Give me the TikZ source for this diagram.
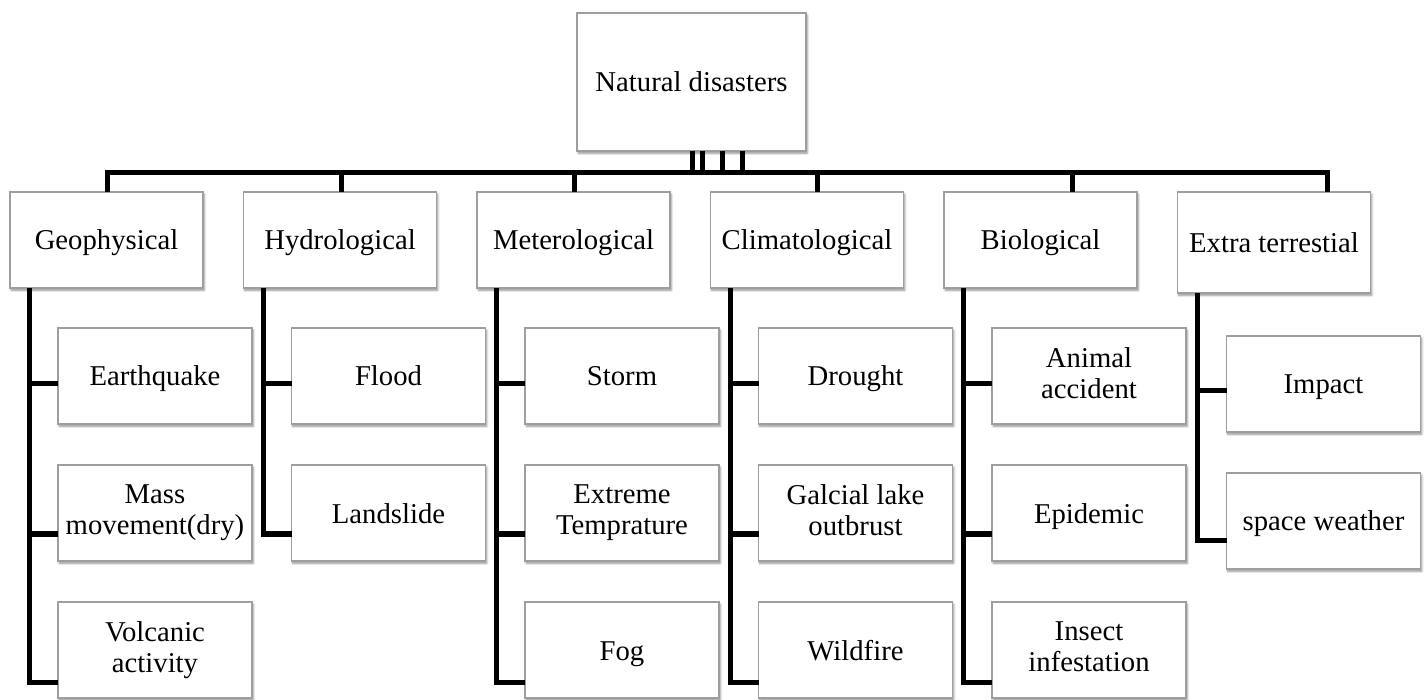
\documentclass[tikz,border=0pt]{standalone}
\usepackage{fontspec}
\setmainfont{Liberation Serif}
\usetikzlibrary{positioning,shadows.blur}

\newcommand{\capstrut}{\vrule width 0pt height 26.5pt depth 0pt}
\newcommand{\descstrut}{\vrule width 0pt height 0pt depth 6.5pt}

\begin{document}
\begin{tikzpicture}[
  basebox/.style={draw=black!38, line width=1.2pt, fill=white, align=center, inner sep=2pt, outer sep=0pt,
    blur shadow={shadow xshift=1.2pt, shadow yshift=-2.2pt, shadow blur radius=2.2pt, shadow opacity=45},
    font=\fontsize{28.7pt}{31pt}\selectfont,
    execute at begin node=\capstrut, execute at end node=\descstrut},
  rootbox/.style={basebox, minimum width=229pt, minimum height=138pt},
  catbox/.style={basebox, minimum width=193pt, minimum height=96pt},
  leafbox/.style={basebox, minimum width=194pt, minimum height=96pt},
  link/.style={line width=5pt, black}
]
  \useasboundingbox (0pt,0pt) rectangle (1428pt,-700pt);

  % Root and categories
  \node[rootbox] (root) at (691.5pt,-82pt) {Natural disasters};
  \node[catbox, anchor=north west] (geo) at (10pt,-192pt) {Geophysical};
  \node[catbox, right=40.5pt of geo] (hyd) {Hydrological};
  \node[catbox, right=40.5pt of hyd] (met) {Meterological};
  \node[catbox, right=40.5pt of met] (cli) {Climatological};
  \node[catbox, right=40.5pt of cli] (bio) {Biological};
  \node[catbox, right=40.5pt of bio.north east, anchor=north west, minimum height=101pt] (ext) {Extra terrestial};

  % Sub types
  \node[leafbox, below=40pt of geo.south west, anchor=north west, xshift=48pt] (quake) {Earthquake};
  \node[leafbox, below=41pt of quake] (mass) {Mass\\movement(dry)};
  \node[leafbox, below=41pt of mass] (volc) {Volcanic\\activity};

  \node[leafbox, below=40pt of hyd.south west, anchor=north west, xshift=48pt] (flood) {Flood};
  \node[leafbox, below=41pt of flood] (slide) {Landslide};

  \node[leafbox, below=40pt of met.south west, anchor=north west, xshift=48pt] (storm) {Storm};
  \node[leafbox, below=41pt of storm] (temp) {Extreme\\Temprature};
  \node[leafbox, below=41pt of temp] (fog) {Fog};

  \node[leafbox, below=40pt of cli.south west, anchor=north west, xshift=48pt] (drought) {Drought};
  \node[leafbox, below=41pt of drought] (glof) {Galcial lake\\outbrust};
  \node[leafbox, below=41pt of glof] (fire) {Wildfire};

  \node[leafbox, below=40pt of bio.south west, anchor=north west, xshift=48pt] (animal) {Animal\\accident};
  \node[leafbox, below=41pt of animal] (epid) {Epidemic};
  \node[leafbox, below=41pt of epid] (insect) {Insect\\infestation};

  \node[leafbox, below=43pt of ext.south west, anchor=north west, xshift=49pt] (impact) {Impact};
  \node[leafbox, below=41pt of impact] (space) {space weather};

  % Root to categories
  \draw[link] ([xshift=50.5pt]root.south) -- ++(0,-21.5pt) -| ([xshift=0.5pt]geo.north);
  \draw[link] ([xshift=30.5pt]root.south) -- ++(0,-21.5pt) -| ([xshift=1pt]hyd.north);
  \draw[link] ([xshift=10.5pt]root.south) -- ++(0,-21.5pt) -| ([xshift=0.5pt]met.north);
  \draw[link] ([xshift=0.5pt]root.south) -- ++(0,-21.5pt) -| ([xshift=10.5pt]cli.north);
  \draw[link] ([xshift=0.5pt]root.south) -- ++(0,-21.5pt) -| ([xshift=31.5pt]bio.north);
  \draw[link] ([xshift=0.5pt]root.south) -- ++(0,-21.5pt) -| ([xshift=53pt]ext.north);

  % Categories to sub types
  \draw[link] ([xshift=19.5pt]geo.south west) |- ([yshift=-8pt]quake.west);
  \draw[link] ([xshift=19.5pt]geo.south west) |- ([yshift=-21pt]mass.west);
  \draw[link] ([xshift=19.5pt]geo.south west) |- ([yshift=-32pt]volc.west);

  \draw[link] ([xshift=19.5pt]hyd.south west) |- ([yshift=-8pt]flood.west);
  \draw[link] ([xshift=19.5pt]hyd.south west) |- ([yshift=-21pt]slide.west);

  \draw[link] ([xshift=19.5pt]met.south west) |- ([yshift=-8pt]storm.west);
  \draw[link] ([xshift=19.5pt]met.south west) |- ([yshift=-21pt]temp.west);
  \draw[link] ([xshift=19.5pt]met.south west) |- ([yshift=-32pt]fog.west);

  \draw[link] ([xshift=19.5pt]cli.south west) |- ([yshift=-8pt]drought.west);
  \draw[link] ([xshift=19.5pt]cli.south west) |- ([yshift=-21pt]glof.west);
  \draw[link] ([xshift=19.5pt]cli.south west) |- ([yshift=-32pt]fire.west);

  \draw[link] ([xshift=19.5pt]bio.south west) |- ([yshift=-8pt]animal.west);
  \draw[link] ([xshift=19.5pt]bio.south west) |- ([yshift=-21pt]epid.west);
  \draw[link] ([xshift=19.5pt]bio.south west) |- ([yshift=-32pt]insect.west);

  \draw[link] ([xshift=19.5pt]ext.south west) |- ([yshift=-6.5pt]impact.west);
  \draw[link] ([xshift=19.5pt]ext.south west) |- ([yshift=-19.5pt]space.west);
\end{tikzpicture}
\end{document}
